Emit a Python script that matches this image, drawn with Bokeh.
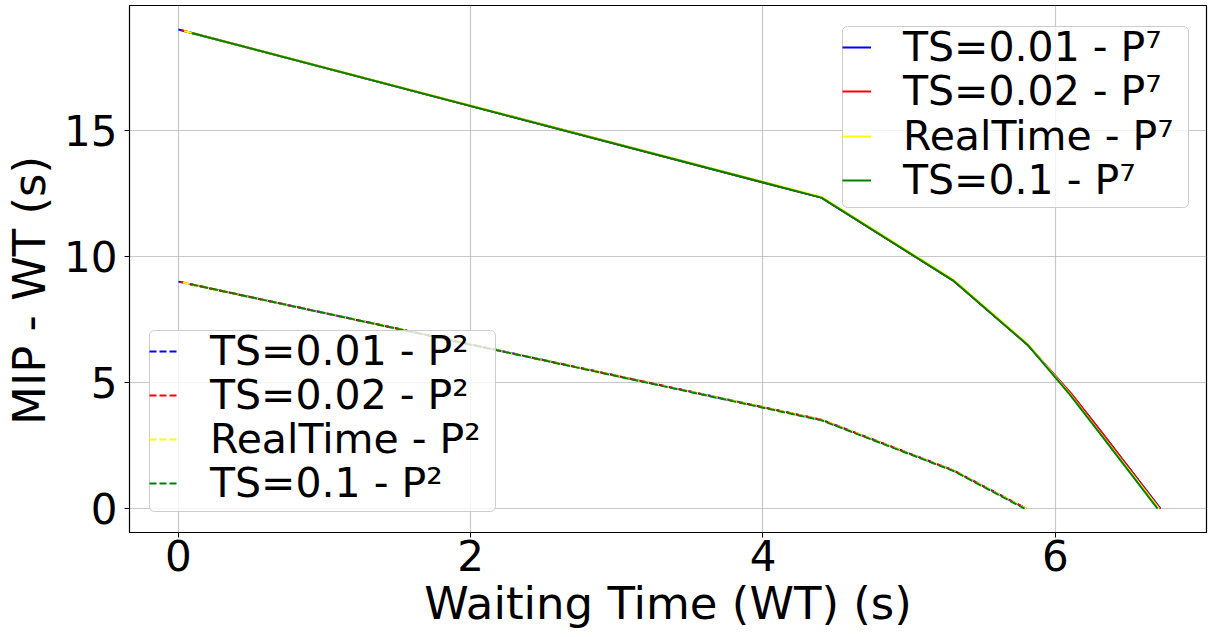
from bokeh.plotting import figure
from bokeh.models import Range1d, Legend, LegendItem, FixedTicker, BoxAnnotation
from bokeh.embed import file_html
from bokeh.resources import INLINE

# ---- data ----
p7_ts001_x = [0.0, 4.4, 5.3, 5.81, 6.11, 6.31, 6.72]
p7_ts001_y = [19.0, 12.33, 9.05, 6.5, 4.55, 3.08, 0.0]
p7_ts002_x = [0.02, 4.4, 5.3, 5.81, 6.11, 6.31, 6.715]
p7_ts002_y = [18.97, 12.33, 9.05, 6.5, 4.55, 3.07, 0.0]
p7_rt_x = [0.04, 4.4, 5.3, 5.81, 6.1, 6.3, 6.71]
p7_rt_y = [18.94, 12.36, 9.09, 6.53, 4.55, 3.05, 0.0]
p7_ts01_x = [0.09, 4.4, 5.3, 5.81, 6.1, 6.3, 6.7]
p7_ts01_y = [18.86, 12.33, 9.05, 6.5, 4.52, 3.02, 0.0]

p2_ts001_x = [0.0, 4.4, 5.3, 5.8]
p2_ts001_y = [9.0, 3.52, 1.52, 0.0]
p2_ts002_x = [0.015, 4.4, 5.3, 5.8]
p2_ts002_y = [8.98, 3.52, 1.52, 0.0]
p2_rt_x = [0.03, 4.4, 5.3, 5.8]
p2_rt_y = [8.96, 3.52, 1.52, 0.0]
p2_ts01_x = [0.09, 4.4, 5.3, 5.79]
p2_ts01_y = [8.89, 3.5, 1.5, 0.0]

labels_p7 = ["TS=0.01 - P\u2077", "TS=0.02 - P\u2077", "RealTime - P\u2077", "TS=0.1 - P\u2077"]
labels_p2 = ["TS=0.01 - P\u00b2", "TS=0.02 - P\u00b2", "RealTime - P\u00b2", "TS=0.1 - P\u00b2"]
colors = ["blue", "red", "yellow", "green"]
x_ticks = [0, 2, 4, 6]
y_ticks = [0, 5, 10, 15]
x_label = "Waiting Time (WT) (s)"
y_label = "MIP - WT (s)"

FONT = "DejaVu Sans"

p = figure(width=1209, height=637, output_backend="svg", toolbar_location=None,
           x_range=Range1d(-0.335, 7.035), y_range=Range1d(-0.95, 19.95),
           min_border_left=128, min_border_right=3, min_border_top=5,
           min_border_bottom=105, background_fill_color="white",
           border_fill_color="white")

p.outline_line_color = "black"
p.outline_line_width = 1.2

p7_series = [(p7_ts001_x, p7_ts001_y), (p7_ts002_x, p7_ts002_y),
             (p7_rt_x, p7_rt_y), (p7_ts01_x, p7_ts01_y)]
p2_series = [(p2_ts001_x, p2_ts001_y), (p2_ts002_x, p2_ts002_y),
             (p2_rt_x, p2_rt_y), (p2_ts01_x, p2_ts01_y)]

r7 = []
for (xs, ys), c in zip(p7_series, colors):
    r7.append(p.line(xs, ys, line_color=c, line_width=2))
r2 = []
for (xs, ys), c in zip(p2_series, colors):
    r2.append(p.line(xs, ys, line_color=c, line_width=2, line_dash="7 3"))

# axes
for ax in (p.xaxis[0], p.yaxis[0]):
    ax.major_label_text_font = FONT
    ax.major_label_text_font_size = "42px"
    ax.major_label_text_color = "black"
    ax.axis_label_text_font = FONT
    ax.axis_label_text_font_size = "45px"
    ax.axis_label_text_font_style = "normal"
    ax.axis_label_text_color = "black"
    ax.major_tick_in = 0
    ax.major_tick_out = 5
    ax.minor_tick_line_color = None
    ax.major_tick_line_color = "black"
    ax.axis_line_color = "black"

p.xaxis.ticker = FixedTicker(ticks=x_ticks)
p.yaxis.ticker = FixedTicker(ticks=y_ticks)
p.xaxis.axis_label = x_label
p.yaxis.axis_label = y_label + "\u00a0\u00a0\u00a0"
p.xaxis.major_label_standoff = 2
p.yaxis.major_label_standoff = 7
p.xaxis.axis_label_standoff = 3
p.yaxis.axis_label_standoff = 5

p.grid.grid_line_color = "#b0b0b0"
p.grid.grid_line_alpha = 0.7
p.grid.grid_line_width = 1.2


def legend_box(left, right, bottom, top):
    kw = dict(left=left, right=right, bottom=bottom, top=top,
              left_units="screen", right_units="screen",
              bottom_units="screen", top_units="screen",
              fill_color="white", fill_alpha=0.8,
              line_color="#cccccc", line_width=1, line_alpha=1.0)
    if "border_radius" in BoxAnnotation.properties():
        kw["border_radius"] = 5
    return BoxAnnotation(**kw)


def row_legend(label, renderer, loc):
    lg = Legend(items=[LegendItem(label=label, renderers=[renderer])], location=loc)
    lg.label_text_font = FONT
    lg.label_text_font_size = "41px"
    lg.label_text_color = "black"
    lg.glyph_width = 29
    lg.glyph_height = 20
    lg.label_standoff = 32
    lg.spacing = 0
    lg.padding = 0
    lg.margin = 0
    lg.border_line_color = None
    lg.background_fill_alpha = 0.0
    lg.click_policy = "none"
    return lg


# legend boxes (frame-relative screen pixels)
p.add_layout(legend_box(713, 1059, 325, 506))
p.add_layout(legend_box(20, 366, 21, 202))

row_y_p7 = [461, 417, 372, 328]
row_y_p2 = [157, 113, 69, 25]
for lbl, r, yy in zip(labels_p7, r7, row_y_p7):
    p.add_layout(row_legend(lbl, r, (713, yy)))
for lbl, r, yy in zip(labels_p2, r2, row_y_p2):
    p.add_layout(row_legend(lbl, r, (20, yy)))

open("out.html", "w").write(file_html(p, INLINE))
